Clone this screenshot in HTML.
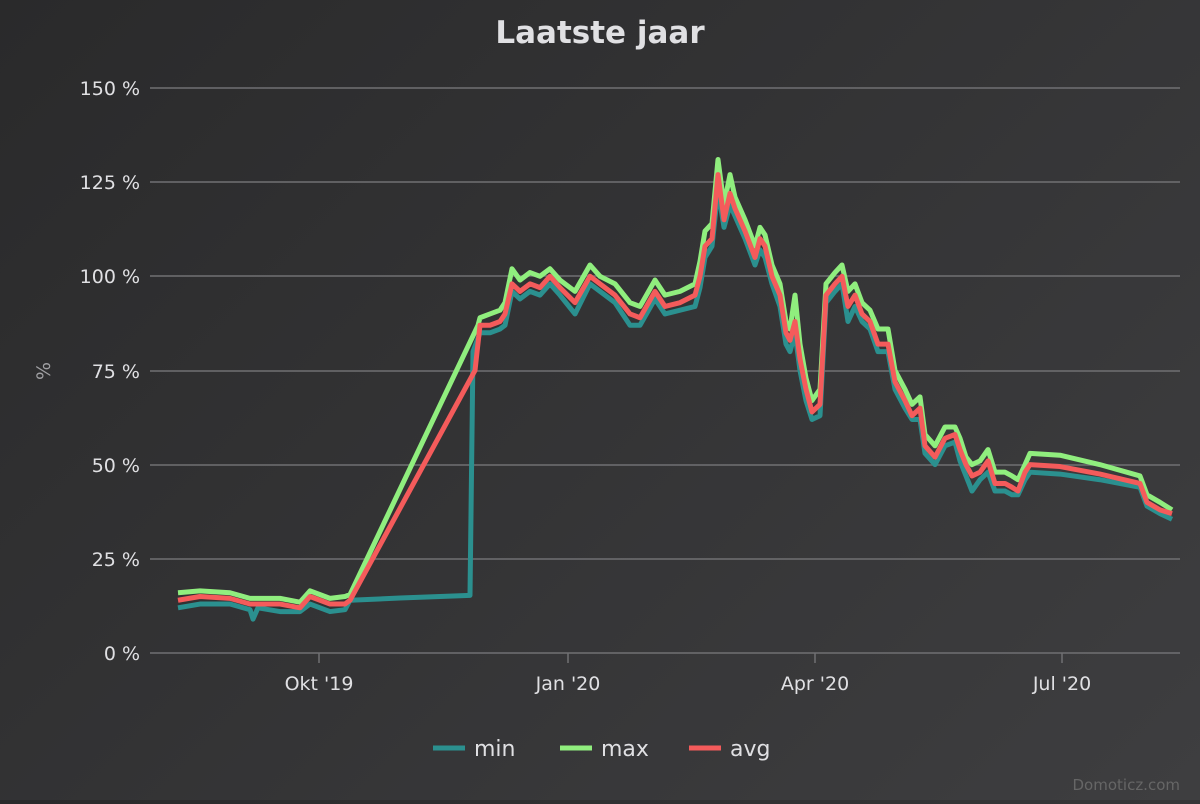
<!DOCTYPE html>
<html><head><meta charset="utf-8"><style>
html,body{margin:0;padding:0}
body{width:1200px;height:800px;background:linear-gradient(135deg,#2a2a2b 0%,#3e3e40 100%);font-family:"DejaVu Sans","Liberation Sans",sans-serif;overflow:hidden}
</style></head><body>
<svg width="1200" height="800" xmlns="http://www.w3.org/2000/svg" font-family="DejaVu Sans, Liberation Sans, sans-serif">
<text x="600" y="43" text-anchor="middle" fill="#e0e0e3" font-size="31" font-weight="bold">Laatste jaar</text>
<g stroke="#707073" stroke-width="1.5">
<line x1="150" x2="1180" y1="88" y2="88"/><line x1="150" x2="1180" y1="182" y2="182"/>
<line x1="150" x2="1180" y1="276" y2="276"/><line x1="150" x2="1180" y1="371" y2="371"/>
<line x1="150" x2="1180" y1="465" y2="465"/><line x1="150" x2="1180" y1="559" y2="559"/>
<line x1="150" x2="1180" y1="653" y2="653"/>
<line x1="319" x2="319" y1="653" y2="663"/><line x1="568" x2="568" y1="653" y2="663"/>
<line x1="815" x2="815" y1="653" y2="663"/><line x1="1062" x2="1062" y1="653" y2="663"/>
</g>
<g fill="#e0e0e3" font-size="19" text-anchor="end">
<text x="140" y="95">150 %</text><text x="140" y="189">125 %</text><text x="140" y="283">100 %</text>
<text x="140" y="378">75 %</text><text x="140" y="472">50 %</text><text x="140" y="566">25 %</text><text x="140" y="660">0 %</text>
</g>
<g fill="#e0e0e3" font-size="19" text-anchor="middle">
<text x="319" y="690">Okt '19</text><text x="568" y="690">Jan '20</text><text x="815" y="690">Apr '20</text><text x="1062" y="690">Jul '20</text>
</g>
<text x="50" y="371" fill="#a0a0a3" font-size="19" text-anchor="middle" transform="rotate(-90 50 371)">%</text>
<g transform="translate(0,653) scale(1,-3.767)" fill="none" stroke-linejoin="round">
<polyline vector-effect="non-scaling-stroke" stroke="#2b908f" stroke-width="5" points="178,12 200,13 230,13 250,11.5 253,9 258,12 280,11 300,11 310,13 320,12 330,11 345,11.5 350,14 400,14.6 470,15.3 473,80 480,85 490,85 500,86 505,87 512,96 520,94 530,96 540,95 550,98 560,95 575,90 590,98 600,96 615,93 630,87 640,87 655,94 665,90 680,91 695,92 700,97 705,105 712,108 718,123 724,113 730,119 735,116 745,110 755,103 760,107 765,105 772,98 780,92 786,82 790,80 795,85 800,75 806,67 812,62 820,63 826,93 835,96 842,98 848,88 855,92 862,88 870,86 878,80 888,80 895,70 905,65 912,62 920,62 925,53 935,50 945,55 955,56 960,51 966,47 972,43 980,46 988,48 995,43 1005,43 1012,42 1018,42 1025,46 1030,48 1060,47.5 1100,46 1140,44 1147,39 1160,37 1172,35.5"/>
<polyline vector-effect="non-scaling-stroke" stroke="#90ee7e" stroke-width="5" points="178,16 200,16.5 230,16 250,14.5 280,14.5 300,13.5 310,16.5 320,15.5 330,14.5 345,15 350,15.5 478,87 480,89 490,90 500,91 505,93 512,102 520,99 530,101 540,100 550,102 560,99 575,96 590,103 600,100 615,98 630,93 640,92 655,99 665,95 680,96 695,98 700,104 705,112 712,114 718,131 724,119 730,127 735,121 745,115 755,108 760,113 765,111 772,103 780,98 786,88 790,86 795,95 800,82 806,73 812,67 820,70 826,98 835,101 842,103 848,96 855,98 862,93 870,91 878,86 888,86 895,75 905,70 912,66 920,68 925,58 935,55 945,60 955,60 960,57 966,52 972,50 980,51 988,54 995,48 1005,48 1012,47 1018,46 1025,50 1030,53 1060,52.5 1100,50 1140,47 1147,42 1160,40 1172,38"/>
<polyline vector-effect="non-scaling-stroke" stroke="#f45b5b" stroke-width="5" points="178,14 200,15 230,14.5 250,13 280,13 300,12 310,15 320,14 330,13 345,13 350,14 475,75 480,87 490,87 500,88 505,90 512,98 520,96 530,98 540,97 550,100 560,97 575,93 590,100 600,98 615,95 630,90 640,89 655,96 665,92 680,93 695,95 700,100 705,108 712,110 718,127 724,115 730,122 735,118 745,112 755,105 760,110 765,108 772,100 780,95 786,85 790,83 795,88 800,78 806,70 812,64 820,66 826,95 835,98 842,100 848,92 855,95 862,90 870,88 878,82 888,82 895,72 905,67 912,63 920,65 925,55 935,52 945,57 955,58 960,54 966,50 972,47 980,48 988,51 995,45 1005,45 1012,44 1018,43 1025,48 1030,50 1060,49.5 1100,47.5 1140,45 1147,40 1160,38 1172,37"/>
</g>
<g font-size="22" fill="#e0e0e3">
<line x1="433" x2="465" y1="748" y2="748" stroke="#2b908f" stroke-width="5"/><text x="474" y="756">min</text>
<line x1="560" x2="592" y1="748" y2="748" stroke="#90ee7e" stroke-width="5"/><text x="601" y="756">max</text>
<line x1="689" x2="721" y1="748" y2="748" stroke="#f45b5b" stroke-width="5"/><text x="730" y="756">avg</text>
</g>
<text x="1180" y="790" text-anchor="end" fill="#666" font-size="15">Domoticz.com</text>
</svg>
</body></html>
